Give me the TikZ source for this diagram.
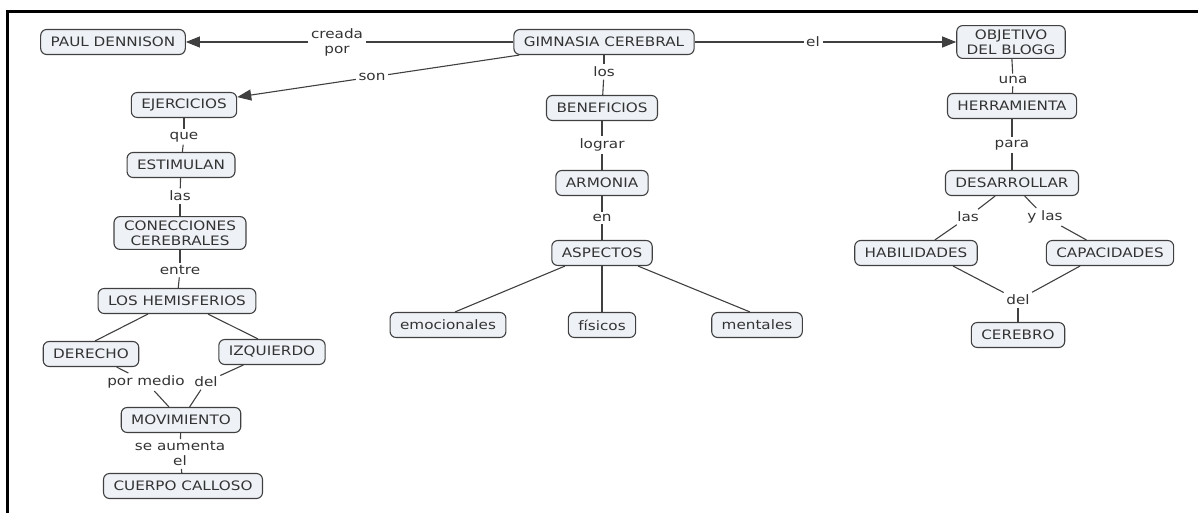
\documentclass[tikz,border=0pt]{standalone}
\usepackage{fontspec}
\setmainfont{DejaVu Sans}[FakeStretch=1.17]
\usetikzlibrary{arrows.meta}
\definecolor{ink}{HTML}{333333}
\definecolor{edge}{HTML}{404040}
\definecolor{cfill}{HTML}{EEF2F7}

\begin{document}
\begin{tikzpicture}[x=1pt,y=-1pt,
  concept/.style={draw=edge, fill=cfill, rounded corners=6pt, line width=1.1pt,
    text=ink, inner xsep=10pt, inner ysep=4pt, minimum height=25pt, align=center,
    font=\fontsize{13}{15}\selectfont},
  link/.style={text=ink, inner sep=2.5pt, align=center, font=\fontsize{13}{15}\selectfont},
  conn/.style={draw=edge, line width=1.1pt},
  arr/.style={conn, -{Triangle[length=14pt,width=11pt]}},
]
\useasboundingbox (0,0) rectangle (1198,513);
\draw[line width=3pt] (7,514) -- (7,12) -- (1199,12);

% top row
\node[concept] (paul) at (113,42) {PAUL DENNISON};
\node[concept] (gim) at (604,42) {GIMNASIA CEREBRAL};
\node[concept] (obj) at (1011,42) {OBJETIVO\\DEL BLOGG};
\node[link] (creada) at (337,42) {creada\\por};
\node[link] (el) at (813,42) {el};
\node[link] (son) at (372,77) {son};

% left branch
\node[concept] (ejer) at (184,105) {EJERCICIOS};
\node[link] (que) at (184,137) {que};
\node[concept] (estim) at (181,165) {ESTIMULAN};
\node[link] (las1) at (180,196) {las};
\node[concept] (conec) at (180,233) {CONECCIONES\\CEREBRALES};
\node[link] (entre) at (180,270) {entre};
\node[concept] (hem) at (177,301) {LOS HEMISFERIOS};
\node[concept] (der) at (91,354) {DERECHO};
\node[concept] (izq) at (272,352) {IZQUIERDO};
\node[link] (pm) at (146,382) {por medio};
\node[link] (del1) at (206,382) {del};
\node[concept] (mov) at (181,420) {MOVIMIENTO};
\node[link] (aum) at (180,454) {se aumenta\\el};
\node[concept] (cuerpo) at (183,486) {CUERPO CALLOSO};

% middle branch
\node[link] (los) at (604,72) {los};
\node[concept] (ben) at (602,108) {BENEFICIOS};
\node[link] (lograr) at (602,145) {lograr};
\node[concept] (arm) at (602,183) {ARMONIA};
\node[link] (en) at (602,218) {en};
\node[concept] (asp) at (602,253) {ASPECTOS};
\node[concept] (emo) at (448,325) {emocionales};
\node[concept] (fis) at (602,325) {físicos};
\node[concept] (men) at (757,325) {mentales};

% right branch
\node[link] (una) at (1013,80) {una};
\node[concept] (herr) at (1012,106) {HERRAMIENTA};
\node[link] (para) at (1012,145) {para};
\node[concept] (des) at (1012,183) {DESARROLLAR};
\node[link] (las2) at (968,217) {las};
\node[link] (ylas) at (1045,217) {y las};
\node[concept] (hab) at (916,253) {HABILIDADES};
\node[concept] (cap) at (1110,253) {CAPACIDADES};
\node[link] (del2) at (1018,300) {del};
\node[concept] (cer) at (1018,335) {CEREBRO};

% connectors: top row
\draw[conn] (gim) -- (creada);
\draw[arr] (creada) -- (paul);
\draw[conn] (gim) -- (el);
\draw[arr] (el) -- (obj);
\draw[conn] ([xshift=6pt]gim.south west) -- (son);
\draw[arr] (son) -- (ejer);

% connectors: left branch
\draw[conn] (ejer) -- (que);
\draw[conn] (que) -- (estim);
\draw[conn] (estim) -- (las1);
\draw[conn] (las1) -- (conec);
\draw[conn] (conec) -- (entre);
\draw[conn] (entre) -- (hem);
\draw[conn] ([xshift=-29pt]hem.south) -- ([xshift=4pt]der.north);
\draw[conn] ([xshift=31pt]hem.south) -- ([xshift=-14pt]izq.north);
\draw[conn] (der) -- (pm);
\draw[conn] (pm) -- (mov);
\draw[conn] (izq) -- (del1);
\draw[conn] (del1) -- (mov);
\draw[conn] (mov) -- (aum);
\draw[conn] (aum) -- (cuerpo);

% connectors: middle branch
\draw[conn] (gim) -- (los);
\draw[conn] (los) -- (ben);
\draw[conn] (ben) -- (lograr);
\draw[conn] (lograr) -- (arm);
\draw[conn] (arm) -- (en);
\draw[conn] (en) -- (asp);
\draw[conn] ([xshift=-37pt]asp.south) -- ([xshift=7pt]emo.north);
\draw[conn] (asp) -- (fis);
\draw[conn] ([xshift=36pt]asp.south) -- ([xshift=-7pt]men.north);

% connectors: right branch
\draw[conn] (obj) -- (una);
\draw[conn] (una) -- (herr);
\draw[conn] (herr) -- (para);
\draw[conn] (para) -- (des);
\draw[conn] (des) -- (las2);
\draw[conn] (las2) -- (hab);
\draw[conn] (des) -- (ylas);
\draw[conn] (ylas) -- (cap);
\draw[conn] ([xshift=37pt]hab.south) -- (del2);
\draw[conn] ([xshift=-30pt]cap.south) -- (del2);
\draw[conn] (del2) -- (cer);
\end{tikzpicture}
\end{document}
